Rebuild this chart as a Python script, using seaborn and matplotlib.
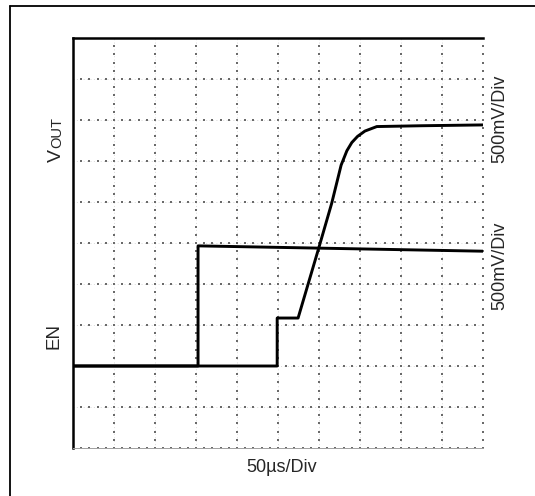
import numpy as np
import pandas as pd
import matplotlib
matplotlib.use("Agg")
import matplotlib.pyplot as plt
import seaborn as sns

# trace points, in scope divisions (x: 0..10, y: 0..10)
en_time = [0.0, 3.05, 3.05, 10.0]
en_level = [2.0, 2.0, 4.93, 4.80]

vout_time = [0.0, 4.98, 4.98, 5.49, 5.98, 6.31, 6.54, 6.68, 6.80, 6.94, 7.12, 7.41, 8.5, 10.0]
vout_level = [2.0, 2.0, 3.17, 3.17, 4.83, 5.97, 6.90, 7.25, 7.45, 7.60, 7.73, 7.84, 7.86, 7.88]

x_label = "50\u00b5s/Div"
ch_scale = "500mV/Div"

W, H = 535, 496

sns.set_theme(style="white")
plt.rcParams['font.family'] = ['Liberation Sans', 'DejaVu Sans']

fig = plt.figure(figsize=(W / 100, H / 100), dpi=100)
ax = fig.add_axes([73 / W, 1 - 448 / H, 410 / W, 410 / H])

en_df = pd.DataFrame({'t': en_time, 'v': en_level})
vout_df = pd.DataFrame({'t': vout_time, 'v': vout_level})

# scope graticule: faint dotted major lines plus sub-division dots
for k in range(1, 10):
    ax.axvline(k, color='#dadada', lw=0.7, ls=(0, (1, 2.5)), zorder=1)
    ax.axhline(k, color='#dadada', lw=0.7, ls=(0, (1, 2.5)), zorder=1)
sub = np.arange(0, 10.01, 0.2)
for k in range(1, 11):
    ax.scatter(np.full_like(sub, k), sub, marker='s', s=1.4, color='#6a6a6a',
               linewidths=0, zorder=2)
    ax.scatter(sub, np.full_like(sub, k), marker='s', s=1.4, color='#6a6a6a',
               linewidths=0, zorder=2)
ax.scatter(sub, np.zeros_like(sub), marker='s', s=1.4, color='#6a6a6a',
           linewidths=0, zorder=2)

sns.lineplot(data=en_df, x='t', y='v', ax=ax, color='black', lw=2.1,
             sort=False, estimator=None, zorder=5)
sns.lineplot(data=vout_df, x='t', y='v', ax=ax, color='black', lw=2.1,
             sort=False, estimator=None, zorder=5)

ax.set_xlim(0, 10)
ax.set_ylim(0, 10)
ax.set_xticks([])
ax.set_yticks([])
ax.set_xlabel('')
ax.set_ylabel('')
ax.spines['left'].set_linewidth(1.8)
ax.spines['top'].set_linewidth(1.8)
ax.spines['left'].set_color('black')
ax.spines['top'].set_color('black')
ax.spines['bottom'].set_linewidth(0.7)
ax.spines['bottom'].set_color('#a0a0a0')
ax.spines['right'].set_visible(False)

# channel labels
fig.text(61 / W, 1 - 162 / H, "V", rotation=90, rotation_mode='anchor',
         ha='left', va='baseline', fontsize=14)
fig.text(61 / W, 1 - 148 / H, "OUT", rotation=90, rotation_mode='anchor',
         ha='left', va='baseline', fontsize=10.5)
fig.text(54 / W, 1 - 336 / H, "EN", rotation=90, ha='center', va='center',
         fontsize=13.5)
fig.text(500 / W, 1 - 119 / H, ch_scale, rotation=90, ha='center',
         va='center', fontsize=13)
fig.text(500 / W, 1 - 266 / H, ch_scale, rotation=90, ha='center',
         va='center', fontsize=13)
fig.text(282 / W, 1 - 468 / H, x_label, ha='center', va='center',
         fontsize=13)

# outer frame (cut off at right and bottom)
fig.add_artist(plt.Line2D([10 / W, 10 / W], [0, 1 - 6 / H], color='black',
                          lw=1.3, transform=fig.transFigure))
fig.add_artist(plt.Line2D([10 / W, 1], [1 - 6 / H, 1 - 6 / H], color='black',
                          lw=1.3, transform=fig.transFigure))

fig.savefig("out.png", dpi=100)
